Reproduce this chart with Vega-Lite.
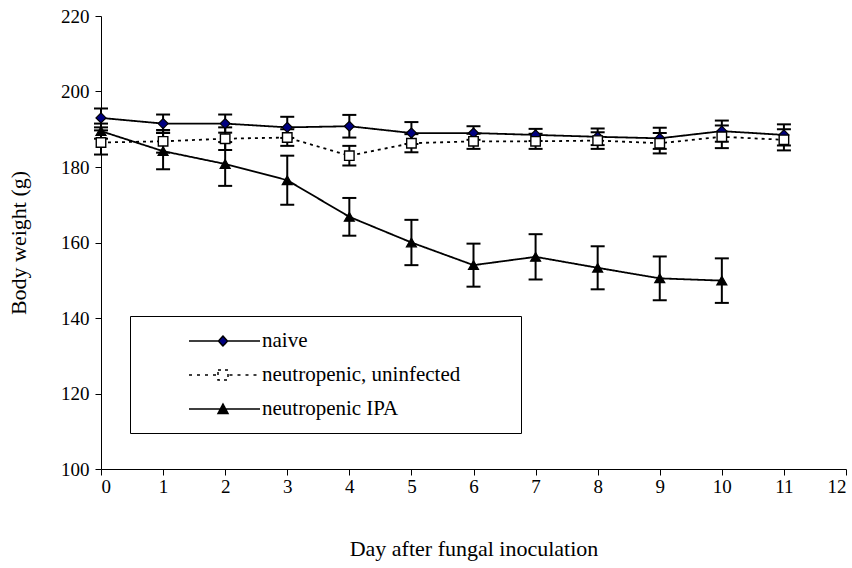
{
  "$schema": "https://vega.github.io/schema/vega-lite/v6.json",
  "width": 745,
  "height": 453,
  "autosize": "none",
  "padding": {"left": 101, "top": 16, "right": 6, "bottom": 99},
  "background": "white",
  "config": {
    "view": {"stroke": null},
    "font": "Liberation Serif",
    "axis": {
      "domainColor": "black",
      "domainWidth": 1,
      "tickColor": "black",
      "tickWidth": 1,
      "tickSize": 6,
      "grid": false,
      "labelColor": "black",
      "labelFont": "Liberation Serif",
      "labelFontSize": 19,
      "titleColor": "black",
      "titleFont": "Liberation Serif",
      "titleFontSize": 22,
      "titleFontWeight": "normal"
    }
  },
  "data": {
    "values": [
      {"series": "naive", "day": 0, "weight": 193.0, "lo": 190.5, "hi": 195.5},
      {"series": "naive", "day": 1, "weight": 191.5, "lo": 189.1, "hi": 193.9},
      {"series": "naive", "day": 2, "weight": 191.5, "lo": 189.1, "hi": 193.9},
      {"series": "naive", "day": 3, "weight": 190.5, "lo": 187.7, "hi": 193.3},
      {"series": "naive", "day": 4, "weight": 190.8, "lo": 187.8, "hi": 193.8},
      {"series": "naive", "day": 5, "weight": 189.0, "lo": 186.1, "hi": 191.9},
      {"series": "naive", "day": 6, "weight": 189.0, "lo": 187.2, "hi": 190.8},
      {"series": "naive", "day": 7, "weight": 188.5, "lo": 186.9, "hi": 190.1},
      {"series": "naive", "day": 8, "weight": 188.0, "lo": 185.8, "hi": 190.2},
      {"series": "naive", "day": 9, "weight": 187.6, "lo": 184.8, "hi": 190.4},
      {"series": "naive", "day": 10, "weight": 189.5, "lo": 186.7, "hi": 192.3},
      {"series": "naive", "day": 11, "weight": 188.5, "lo": 185.7, "hi": 191.3},
      {"series": "neutropenic, uninfected", "day": 0, "weight": 186.5, "lo": 183.3, "hi": 189.7},
      {"series": "neutropenic, uninfected", "day": 1, "weight": 186.8, "lo": 183.8, "hi": 189.8},
      {"series": "neutropenic, uninfected", "day": 2, "weight": 187.5, "lo": 184.5, "hi": 190.5},
      {"series": "neutropenic, uninfected", "day": 3, "weight": 187.8, "lo": 185.6, "hi": 190.0},
      {"series": "neutropenic, uninfected", "day": 4, "weight": 183.0, "lo": 180.4, "hi": 185.6},
      {"series": "neutropenic, uninfected", "day": 5, "weight": 186.3, "lo": 183.9, "hi": 188.7},
      {"series": "neutropenic, uninfected", "day": 6, "weight": 186.8, "lo": 184.8, "hi": 188.8},
      {"series": "neutropenic, uninfected", "day": 7, "weight": 186.8, "lo": 184.8, "hi": 188.8},
      {"series": "neutropenic, uninfected", "day": 8, "weight": 187.0, "lo": 184.8, "hi": 189.2},
      {"series": "neutropenic, uninfected", "day": 9, "weight": 186.3, "lo": 183.6, "hi": 189.0},
      {"series": "neutropenic, uninfected", "day": 10, "weight": 188.0, "lo": 185.0, "hi": 191.0},
      {"series": "neutropenic, uninfected", "day": 11, "weight": 187.2, "lo": 184.4, "hi": 190.0},
      {"series": "neutropenic IPA", "day": 0, "weight": 189.5, "lo": 187.5, "hi": 191.5},
      {"series": "neutropenic IPA", "day": 1, "weight": 184.2, "lo": 179.4, "hi": 189.0},
      {"series": "neutropenic IPA", "day": 2, "weight": 180.8, "lo": 175.0, "hi": 186.6},
      {"series": "neutropenic IPA", "day": 3, "weight": 176.5, "lo": 170.0, "hi": 183.0},
      {"series": "neutropenic IPA", "day": 4, "weight": 166.8, "lo": 161.8, "hi": 171.8},
      {"series": "neutropenic IPA", "day": 5, "weight": 160.0, "lo": 154.0, "hi": 166.0},
      {"series": "neutropenic IPA", "day": 6, "weight": 154.0, "lo": 148.3, "hi": 159.7},
      {"series": "neutropenic IPA", "day": 7, "weight": 156.2, "lo": 150.2, "hi": 162.2},
      {"series": "neutropenic IPA", "day": 8, "weight": 153.3, "lo": 147.6, "hi": 159.0},
      {"series": "neutropenic IPA", "day": 9, "weight": 150.5, "lo": 144.7, "hi": 156.3},
      {"series": "neutropenic IPA", "day": 10, "weight": 149.9, "lo": 144.0, "hi": 155.8}
    ]
  },
  "encoding": {
    "x": {
      "field": "day",
      "type": "quantitative",
      "scale": {"domain": [0, 12], "nice": false, "zero": false},
      "axis": {
        "values": [0, 1, 2, 3, 4, 5, 6, 7, 8, 9, 10, 11, 12],
        "title": "Day after fungal inoculation",
        "labelPadding": 2,
        "titlePadding": 42
      }
    }
  },
  "layer": [
    {
      "mark": {"type": "rule", "strokeWidth": 2},
      "encoding": {
        "y": {
          "field": "lo",
          "type": "quantitative",
          "scale": {"domain": [100, 220], "nice": false, "zero": false},
          "axis": {
            "values": [100, 120, 140, 160, 180, 200, 220],
            "title": "Body weight (g)",
            "labelPadding": 6,
            "titlePadding": 30
          }
        },
        "y2": {"field": "hi"},
        "stroke": {
          "field": "series",
          "type": "nominal",
          "scale": {
            "domain": ["naive", "neutropenic, uninfected", "neutropenic IPA"],
            "range": ["black", "black", "black"]
          },
          "legend": {
            "title": null,
            "orient": "none",
            "legendX": 29,
            "legendY": 300,
            "padding": 14,
            "strokeColor": "black",
            "fillColor": "white",
            "symbolSize": 400,
            "symbolOffset": 68,
            "labelOffset": 28,
            "rowPadding": 13,
            "labelFont": "Liberation Serif",
            "labelFontSize": 21,
            "labelColor": "black",
            "labelLimit": 600,
            "encoding": {
              "symbols": {
                "shape": {"value": {"expr": "datum.value === 'naive' ? 'M-3.4,0H-0.45M0.45,0H3.7M-0.45,0L0,-0.5L0.45,0L0,0.5ZM28.1,0' : datum.value === 'neutropenic IPA' ? 'M-3.4,0H3.7M-0.5,0.45L0,-0.5L0.5,0.45ZM28.1,0' : 'M-3.4,0H-3.05M-2.6,0H-2.25M-1.8,0H-1.45M-1,0H-0.65M0.65,0H1M1.45,0H1.8M2.25,0H2.6M3.05,0H3.4M-0.5,-0.5H0.5V0.5H-0.5ZM28.1,0'"}},
                "fill": {"value": {"expr": "datum.value === 'naive' ? '#000080' : datum.value === 'neutropenic IPA' ? 'black' : 'white'"}},
                "stroke": {"value": "black"},
                "strokeWidth": {"value": 1.5},
                "opacity": {"value": 1},
                "fillOpacity": {"value": 1},
                "strokeOpacity": {"value": 1}
              }
            }
          }
        }
      }
    },
    {
      "mark": {"type": "tick", "orient": "horizontal", "color": "black", "size": 14, "thickness": 2, "opacity": 1},
      "encoding": {
        "y": {"field": "lo", "type": "quantitative", "title": "Body weight (g)"},
        "detail": {"field": "series", "type": "nominal"}
      }
    },
    {
      "mark": {"type": "tick", "orient": "horizontal", "color": "black", "size": 14, "thickness": 2, "opacity": 1},
      "encoding": {
        "y": {"field": "hi", "type": "quantitative", "title": "Body weight (g)"},
        "detail": {"field": "series", "type": "nominal"}
      }
    },
    {
      "mark": {"type": "line", "color": "black", "strokeWidth": 1.8},
      "encoding": {
        "y": {"field": "weight", "type": "quantitative", "title": "Body weight (g)"},
        "detail": {"field": "series", "type": "nominal"},
        "strokeDash": {
          "field": "series",
          "type": "nominal",
          "scale": {
            "domain": ["naive", "neutropenic, uninfected", "neutropenic IPA"],
            "range": [[1, 0], [3, 4], [1, 0]]
          },
          "legend": null
        }
      }
    },
    {
      "transform": [{"filter": "datum.series === 'naive'"}],
      "mark": {"type": "point", "shape": "diamond", "filled": true, "fill": "#000080", "size": 100, "stroke": "black", "strokeWidth": 1.2, "opacity": 1},
      "encoding": {
        "y": {"field": "weight", "type": "quantitative", "title": "Body weight (g)"}
      }
    },
    {
      "transform": [{"filter": "datum.series === 'neutropenic, uninfected'"}],
      "mark": {"type": "point", "shape": "square", "filled": true, "fill": "white", "size": 90, "stroke": "black", "strokeWidth": 1.4, "opacity": 1},
      "encoding": {
        "y": {"field": "weight", "type": "quantitative", "title": "Body weight (g)"}
      }
    },
    {
      "transform": [{"filter": "datum.series === 'neutropenic IPA'"}],
      "mark": {"type": "point", "shape": "triangle-up", "filled": true, "fill": "black", "size": 100, "stroke": "black", "strokeWidth": 1.2, "opacity": 1},
      "encoding": {
        "y": {"field": "weight", "type": "quantitative", "title": "Body weight (g)"}
      }
    }
  ]
}
